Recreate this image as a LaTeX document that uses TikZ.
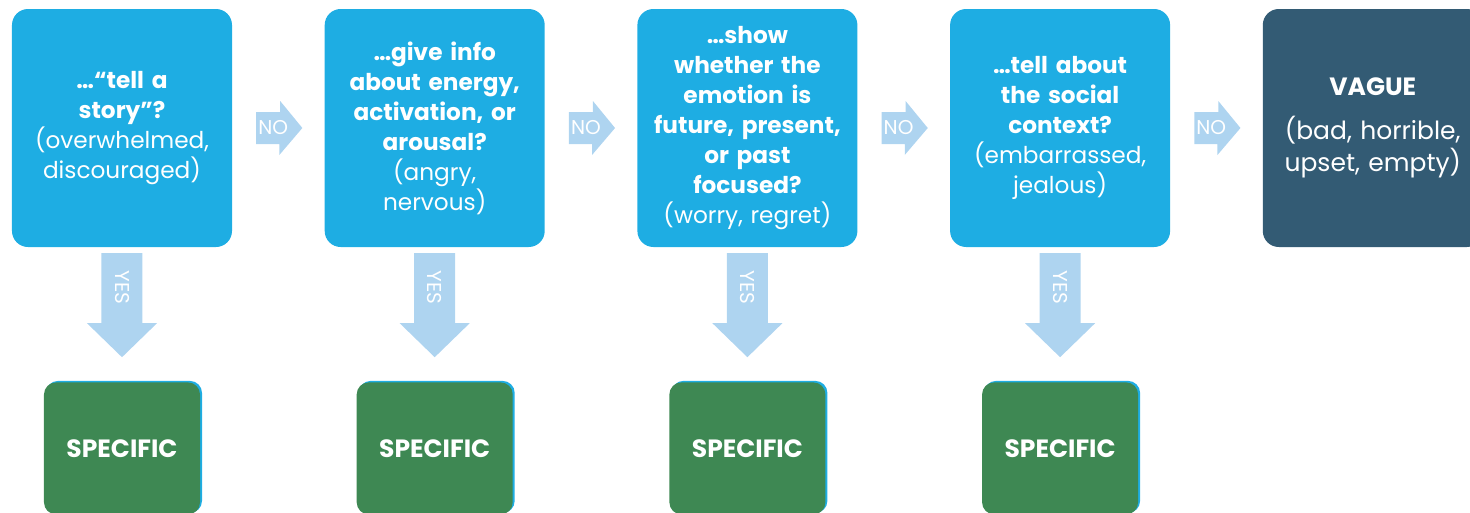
\documentclass[tikz,border=0pt]{standalone}
\usepackage{fontspec}
\setmainfont{Poppins}
\usepackage{xcolor}
\definecolor{qblue}{HTML}{1EADE3}
\definecolor{vagueblue}{HTML}{335B74}
\definecolor{specgreen}{HTML}{3E8853}
\definecolor{arrowblue}{HTML}{AED4F0}
\usetikzlibrary{positioning,calc,shadows}

\begin{document}
\begin{tikzpicture}[x=1pt,y=1pt,node distance=92.3pt,
  qbox/.style={fill=qblue,rounded corners=16pt,minimum width=220pt,minimum height=238pt,
    text width=212pt,align=center,text=white,inner sep=0pt,font=\fontsize{23.2}{30}\selectfont},
  vbox/.style={qbox,fill=vagueblue,font=\fontsize{25}{32}\selectfont},
  sbox/.style={fill=specgreen,rounded corners=12pt,minimum width=156pt,minimum height=132pt,
    text=white,font=\fontsize{25}{30}\selectfont\bfseries,
    drop shadow={shadow xshift=2pt,shadow yshift=1.5pt,fill=qblue,opacity=1}},
  arrfill/.style={fill=arrowblue},
  arrtext/.style={text=white,font=\fontsize{20}{20}\selectfont,inner sep=0pt}]
\useasboundingbox (-122,128) rectangle (1348,-384);
\clip (-122,128) rectangle (1348,-384);
% question boxes
\node[qbox] (q1) at (0,0) {{\bfseries …“tell a\\story”?}\\(overwhelmed,\\discouraged)};
\node[qbox,right=of q1] (q2) {{\bfseries …give info\\about energy,\\activation, or\\arousal?}\\(angry,\\nervous)};
\node[qbox,right=of q2] (q3) {{\bfseries …show\\whether the\\emotion is\\future, present,\\or past\\focused?}\\(worry, regret)};
\node[qbox,right=of q3] (q4) {{\bfseries …tell about\\the social\\context?}\\(embarrassed,\\jealous)};
% vague end
\node[vbox,right=of q4] (vq) {{\bfseries VAGUE}\\[12pt](bad, horrible,\\upset, empty)};
% specific ends
\node[sbox,below=135pt of q1] (s1) {SPECIFIC};
\node[sbox,below=135pt of q2] (s2) {SPECIFIC};
\node[sbox,below=135pt of q3] (s3) {SPECIFIC};
\node[sbox,below=135pt of q4] (s4) {SPECIFIC};
% NO arrows
\foreach \a/\b in {q1/q2,q2/q3,q3/q4,q4/vq} {
  \coordinate (t) at ($(\a.east)!.26!(\b.west)$);
  \coordinate (h) at ($(\a.east)!.76!(\b.west)$);
  \fill[arrfill] ($(t)+(0,16)$) -- ++(24,0) -- ++(0,11) -- (h) -- ++(-23,-27)
    -- ++(0,11) -- ($(t)+(0,-16)$) -- cycle;
  \node[arrtext] at ($(t)+(17,0)$) {NO};
}
% YES arrows
\foreach \q/\s in {q1/s1,q2/s2,q3/s3,q4/s4} {
  \coordinate (t) at ($(\q.south)+(0,-6)$);
  \coordinate (h) at ($(\s.north)+(0,25)$);
  \fill[arrfill] ($(t)+(-20.5,0)$) -- ++(41,0) -- ++(0,-70) -- ++(14.5,0) -- (h)
    -- ++(-35,34) -- ++(14.5,0) -- cycle;
  \node[arrtext,rotate=-90] at ($(\q.south)+(0,-40)$) {YES};
}
\end{tikzpicture}
\end{document}
